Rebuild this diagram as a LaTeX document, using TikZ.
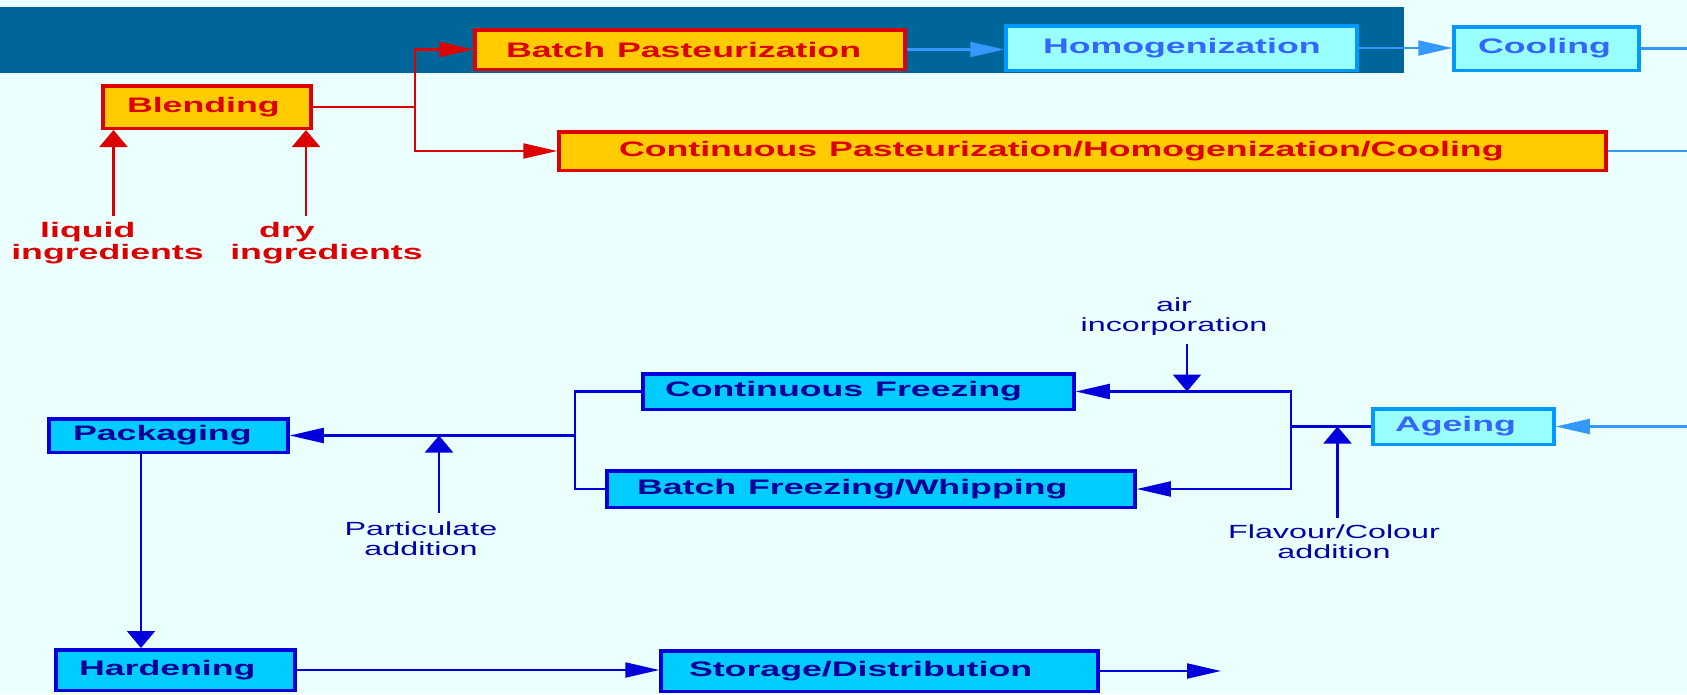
\documentclass[tikz,border=0pt]{standalone}
\usepackage{fontspec}
\setmainfont{Liberation Sans}
\usepackage{graphicx}
\usetikzlibrary{arrows.meta}
\definecolor{bgc}{HTML}{EBFFFF}
\definecolor{band}{HTML}{006699}
\definecolor{rd}{HTML}{DD0000}
\definecolor{org}{HTML}{FFCC00}
\definecolor{lfill}{HTML}{99FFFF}
\definecolor{lbord}{HTML}{0099FF}
\definecolor{ltext}{HTML}{3366FF}
\definecolor{larr}{HTML}{3399FF}
\definecolor{dfill}{HTML}{00CCFF}
\definecolor{dbord}{HTML}{0000DD}
\definecolor{dtext}{HTML}{000099}
\definecolor{ltxt}{HTML}{0000AA}
\newcommand{\sx}[1]{\scalebox{1.7}[1]{#1}}
\begin{document}
\begin{tikzpicture}[x=1pt,y=-1pt,
  box/.style={rectangle, line width=3.5pt, align=left, inner ysep=0pt,
    font=\fontsize{21}{21}\selectfont\bfseries},
  obox/.style={box, draw=rd, fill=org, text=rd},
  lbox/.style={box, draw=lbord, fill=lfill, text=ltext},
  dbox/.style={box, draw=dbord, fill=dfill, text=dtext},
  harr/.style={-{Triangle[length=34pt,width=15pt]}},
  varr/.style={-{Triangle[length=17pt,width=28pt]}},
  rline/.style={draw=rd, line width=2.1pt},
  lline/.style={draw=larr, line width=2.1pt},
  dline/.style={draw=dbord, line width=2.1pt},
  rlabel/.style={inner sep=0pt, text=rd, font=\fontsize{21}{21}\selectfont\bfseries},
  blabel/.style={inner sep=0pt, text=ltxt, font=\fontsize{19}{20}\selectfont}
]
\fill[bgc] (0,0) rectangle (1687,694);
\useasboundingbox (0,0) rectangle (1687,694);
\fill[band] (0,7) rectangle (1404,73);

% upper boxes
\node[obox, minimum width=430pt, minimum height=39.5pt, inner xsep=31pt, text width=368pt] (batch) at (690,49.5) {\sx{Batch Pasteurization}};
\node[lbox, minimum width=351pt, minimum height=44.5pt, inner xsep=37pt, text width=277pt] (homog) at (1181.5,48) {\sx{Homogenization}};
\node[lbox, minimum width=185pt, minimum height=43.5pt, inner xsep=24pt, text width=137pt] (cooling) at (1546.5,48.5) {\sx{Cooling}};
\node[obox, minimum width=208pt, minimum height=42.5pt, inner xsep=24pt, text width=160pt] (blend) at (207,107) {\sx{Blending}};
\node[obox, minimum width=1047pt, minimum height=38.5pt, inner xsep=60pt, text width=927pt] (cont) at (1082.5,151) {\sx{Continuous Pasteurization/Homogenization/Cooling}};

% lower boxes
\node[dbox, minimum width=431pt, minimum height=35.5pt, inner xsep=22pt, text width=387pt] (contfreeze) at (858.5,391.5) {\sx{Continuous Freezing}};
\node[dbox, minimum width=528pt, minimum height=36.5pt, inner xsep=30pt, text width=468pt] (batchfreeze) at (871,489) {\sx{Batch Freezing/Whipping}};
\node[lbox, minimum width=181pt, minimum height=35.5pt, inner xsep=22pt, text width=137pt] (ageing) at (1463.5,426.5) {\sx{Ageing}};
\node[dbox, minimum width=239pt, minimum height=33.5pt, inner xsep=24pt, text width=191pt] (pack) at (168.5,435.5) {\sx{Packaging}};
\node[dbox, minimum width=239pt, minimum height=40.5pt, inner xsep=23pt, text width=193pt] (hard) at (175.5,670) {\sx{Hardening}};
\node[dbox, minimum width=437pt, minimum height=40.5pt, inner xsep=28pt, text width=381pt] (storage) at (879.5,671) {\sx{Storage/Distribution}};

% labels
\node[rlabel] (liq) at (107.5,244) {\sx{\begin{tabular}{@{}l@{}}\kern17pt liquid\\ingredients\end{tabular}}};
\node[rlabel] (dry) at (326.5,244) {\sx{\begin{tabular}{@{}l@{}}\kern17pt dry\\ingredients\end{tabular}}};
\node[blabel] (air) at (1174,317) {\sx{\begin{tabular}{@{}c@{}}air\\incorporation\end{tabular}}};
\node[blabel] (part) at (421,541) {\sx{\begin{tabular}{@{}c@{}}Particulate\\addition\end{tabular}}};
\node[blabel] (flav) at (1334,544) {\sx{\begin{tabular}{@{}c@{}}Flavour/Colour\\addition\end{tabular}}};

% red connectors
\coordinate (j1) at (415,107);
\draw[rline] (blend.east) -- (j1);
\draw[rline, harr] (j1) |- (batch.west);
\draw[rline, harr] (j1) |- (cont.west);
\coordinate (liqs) at (113.5,216);
\coordinate (drys) at (306,216);
\draw[rline, varr] (liqs) -- (liqs |- blend.south);
\draw[rline, varr] (drys) -- (drys |- blend.south);

% light blue connectors
\draw[lline, harr] (batch.east) -- (batch.east -| homog.west);
\draw[lline, harr] (homog.east) -- (homog.east -| cooling.west);
\coordinate (coolout) at (1687,48.5);
\draw[lline] (cooling.east) -- (coolout);
\coordinate (contout) at (1687,151);
\draw[lline] (cont.east) -- (contout);
\coordinate (agein) at (1687,426.5);
\draw[lline, harr] (agein) -- (ageing.east);

% dark blue connectors
\coordinate (rb) at (1291,426.5);
\draw[dline] (ageing.west) -- (rb);
\draw[dline, harr] (rb) |- (contfreeze.east);
\draw[dline, harr] (rb) |- (batchfreeze.east);
\coordinate (airs) at (1187,344);
\draw[dline, varr] (airs) -- (airs |- contfreeze.east);
\coordinate (fls) at (1337.5,518);
\draw[dline, varr] (fls) -- (fls |- ageing.west);
\coordinate (lb) at (575,435.5);
\draw[dline] (contfreeze.west) -| (lb);
\draw[dline] (batchfreeze.west) -| (lb);
\draw[dline, harr] (lb) -- (pack.east);
\coordinate (pas) at (439,513);
\draw[dline, varr] (pas) -- (pas |- lb);
\coordinate (pd) at (141,0);
\draw[dline, varr] (pd |- pack.south) -- (pd |- hard.north);
\draw[dline, harr] (hard.east) -- (hard.east -| storage.west);
\coordinate (stout) at (1221,671);
\draw[dline, harr] (storage.east) -- (stout);
\end{tikzpicture}
\end{document}
